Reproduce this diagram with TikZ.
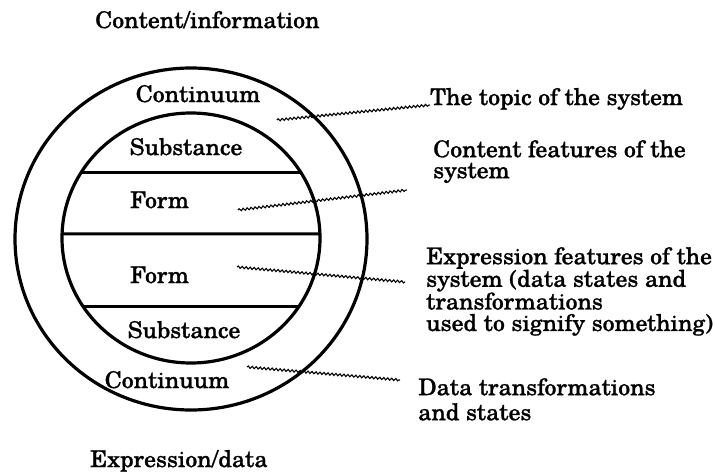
\documentclass[tikz,border=0pt]{standalone}
\usepackage{fontspec}
\setmainfont{TeX Gyre Schola}[FakeStretch=1.03, FakeBold=1.2]
\usetikzlibrary{decorations.pathmorphing,intersections}
\begin{document}
\begin{tikzpicture}[x=1pt,y=-1pt,
  lbl/.style={font=\fontsize{23}{21}\selectfont, inner sep=0pt},
  ring/.style={draw, line width=3.2pt},
  chord/.style={draw, line width=3pt},
  wavy/.style={draw, line width=1.1pt, decorate,
    decoration={snake, amplitude=1.1pt, segment length=4pt}}]
\useasboundingbox (0,0) rectangle (716,474);
\fill[white] (0,0) rectangle (716,474);

% rings
\draw[ring] (191,239) ellipse [x radius=176, y radius=171];
\draw[ring, name path=innerE] (191,238) ellipse [x radius=129, y radius=125];

% chords
\path[name path=h1] (0,172) -- (400,172);
\path[name path=h2] (0,234) -- (400,234);
\path[name path=h3] (0,307) -- (400,307);
\path[name intersections={of=innerE and h1, name=a}];
\path[name intersections={of=innerE and h2, name=b}];
\path[name intersections={of=innerE and h3, name=c}];
\draw[chord] (a-1) -- (a-2);
\draw[chord] (b-1) -- (b-2);
\draw[chord] (c-1) -- (c-2);

% labels inside
\node[lbl, anchor=base] (c1) at (198,102) {Continuum};
\node[lbl, anchor=base] (s1) at (186,155) {Substance};
\node[lbl, anchor=base west] (f1) at (130,208) {Form};
\node[lbl, anchor=base west] (f2) at (130,283) {Form};
\node[lbl, anchor=base] (s2) at (184,338) {Substance};
\node[lbl, anchor=base] (c2) at (167,388) {Continuum};

% titles
\node[lbl, anchor=base west] (t1) at (95,28) {Content/information};
\node[lbl, anchor=base west] (t2) at (90,467) {Expression/data};

% right labels
\node[lbl, anchor=base west] (topic) at (430,105) {The topic of the system};
\node[lbl, anchor=north west, align=left, font=\fontsize{23}{21}\selectfont] (content) at (433,140) {Content features of the\\system};
\node[lbl, anchor=north west, align=left, font=\fontsize{23}{21.5}\selectfont] (expr) at (426,247) {Expression features of the\\system (data states and\\transformations\\used to signify something)};
\node[lbl, anchor=north west, align=left, font=\fontsize{23}{25}\selectfont] (data) at (418,378) {Data transformations\\and states};

% wavy connectors
\coordinate (w1) at (277,120);
\coordinate (w2a) at (238,210);
\coordinate (w2b) at (407,190);
\coordinate (w3a) at (237,267);
\coordinate (w3b) at (405,282);
\coordinate (w4a) at (247,367);
\coordinate (w4b) at (400,380);
\draw[wavy] (w1) -- (topic.base west);
\draw[wavy] (w2a) -- (w2b);
\draw[wavy] (w3a) -- (w3b);
\draw[wavy] (w4a) -- (w4b);
\end{tikzpicture}
\end{document}
